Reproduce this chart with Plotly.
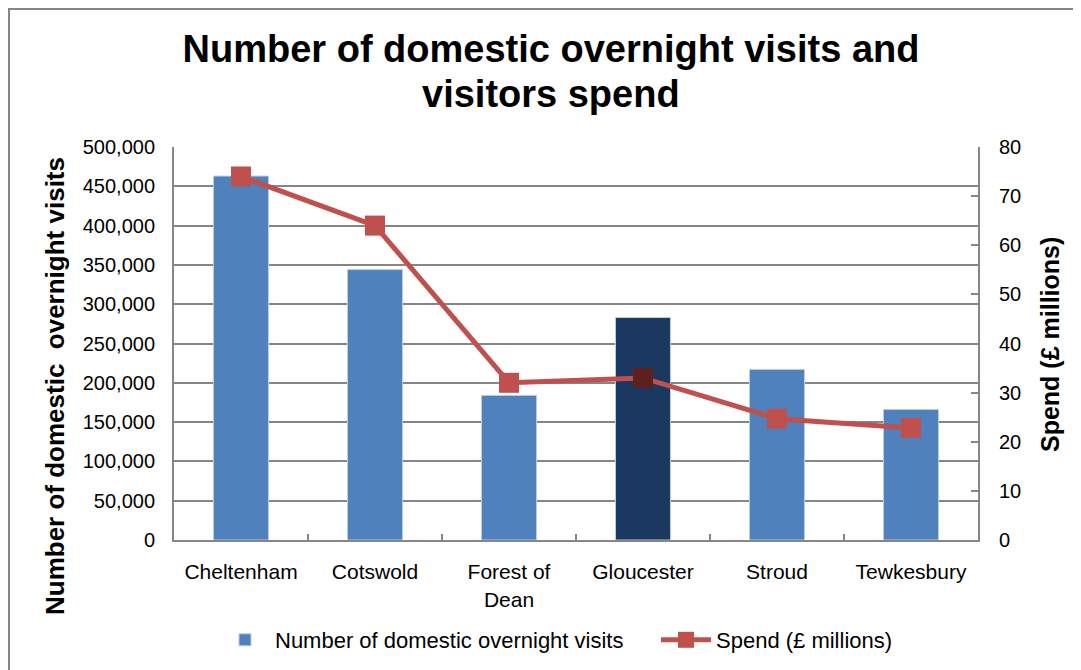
import plotly.graph_objects as go

# ---- data ----
districts = ["Cheltenham", "Cotswold", "Forest of<br>Dean", "Gloucester", "Stroud", "Tewkesbury"]
visits = [463000, 344000, 184000, 283000, 217000, 166000]
spend = [74, 64, 32, 33, 24.7, 22.8]
visits_ticks = [0, 50000, 100000, 150000, 200000, 250000, 300000, 350000, 400000, 450000, 500000]
spend_ticks = [0, 10, 20, 30, 40, 50, 60, 70, 80]

bar_colors = ["#4F81BD", "#4F81BD", "#4F81BD", "#1A3860", "#4F81BD", "#4F81BD"]
marker_colors = ["#C0504D", "#C0504D", "#C0504D", "#5E1F1F", "#C0504D", "#C0504D"]

OFF = 8  # page body margin
W, H = 1081 - OFF, 670 - OFF
# plot area in screenshot (reference) pixels
RL, RR, RT, RB = 174, 978, 147, 540
L, R, T, B = RL - OFF, RR - OFF, RT - OFF, RB - OFF

def px_x(x):
    return (x - RL) / (RR - RL)

def px_y(y):
    return (RB - y) / (RB - RT)

FONT = "Liberation Sans, Arial, sans-serif"
GRID = "#868686"

fig = go.Figure()
fig.add_trace(go.Bar(
    x=districts, y=visits, name="Number of domestic overnight visits",
    marker=dict(color=bar_colors, line=dict(color="#B9CDE5", width=1)),
    width=0.41, yaxis="y", legend="legend", showlegend=True,
))
fig.add_trace(go.Scatter(
    x=districts, y=spend, name="Spend (£ millions)", mode="lines+markers",
    line=dict(color="#C0504D", width=5),
    marker=dict(symbol="square", size=20, color=marker_colors),
    yaxis="y2", legend="legend2", showlegend=True,
))

legend_common = dict(orientation="h", xanchor="left", yanchor="middle",
                     y=px_y(640), font=dict(size=22, color="#000000"),
                     bgcolor="rgba(0,0,0,0)", itemwidth=50)

fig.update_layout(
    width=W, height=H, showlegend=True,
    margin=dict(l=L, r=W - R, t=T, b=H - B, autoexpand=False),
    paper_bgcolor="white", plot_bgcolor="white",
    font=dict(family=FONT, size=20, color="#000000"),
    title=dict(text="<b>Number of domestic overnight visits and</b>",
               font=dict(family=FONT, size=38, color="#000000"),
               x=(551 - OFF) / W, xanchor="center", xref="container",
               y=1 - 41 / H, yanchor="middle", yref="container"),
    xaxis=dict(showline=True, linecolor=GRID, linewidth=2, ticks="inside",
               tickson="boundaries", ticklen=6, tickcolor=GRID, tickwidth=2,
               tickfont=dict(size=21, color="#000000"), showgrid=False,
               ticklabelstandoff=12),
    yaxis=dict(range=[0, 500000], tickvals=visits_ticks, tickformat=",",
               showgrid=True, gridcolor=GRID, gridwidth=2,
               showline=True, linecolor=GRID, linewidth=2, ticks="",
               tickfont=dict(size=20, color="#000000"), zeroline=False,
               ticklabelstandoff=13),
    yaxis2=dict(range=[0, 80], tickvals=spend_ticks, overlaying="y", side="right",
                showgrid=False, showline=True, linecolor=GRID, linewidth=2,
                ticks="inside", ticklen=7, tickcolor=GRID, tickwidth=2,
                tickfont=dict(size=20, color="#000000"), zeroline=False,
                ticklabelstandoff=15),
    legend=dict(x=px_x(215), **legend_common),
    legend2=dict(x=px_x(656), **legend_common),
    bargap=0.5,
)

fig.add_annotation(text="<b>visitors spend</b>", xref="paper", yref="paper",
                   x=px_x(551), y=px_y(94), xanchor="center", yanchor="middle",
                   showarrow=False, font=dict(family=FONT, size=38, color="#000000"))
fig.add_annotation(text="<b>Number of domestic  overnight visits</b>", xref="paper", yref="paper",
                   x=px_x(55), y=px_y(386), xanchor="center", yanchor="middle",
                   textangle=-90, showarrow=False,
                   font=dict(family=FONT, size=26, color="#000000"))
fig.add_annotation(text="<b>Spend (£ millions)</b>", xref="paper", yref="paper",
                   x=px_x(1050), y=px_y(345), xanchor="center", yanchor="middle",
                   textangle=-90, showarrow=False,
                   font=dict(family=FONT, size=25, color="#000000"))

# outer chart frame (left/top edges visible, rest off-canvas)
fig.add_shape(type="rect", xref="paper", yref="paper",
              x0=px_x(9), x1=px_x(1100), y0=px_y(700), y1=px_y(9),
              line=dict(color=GRID, width=2), fillcolor="rgba(0,0,0,0)", layer="below")

fig.write_html("out.html")
